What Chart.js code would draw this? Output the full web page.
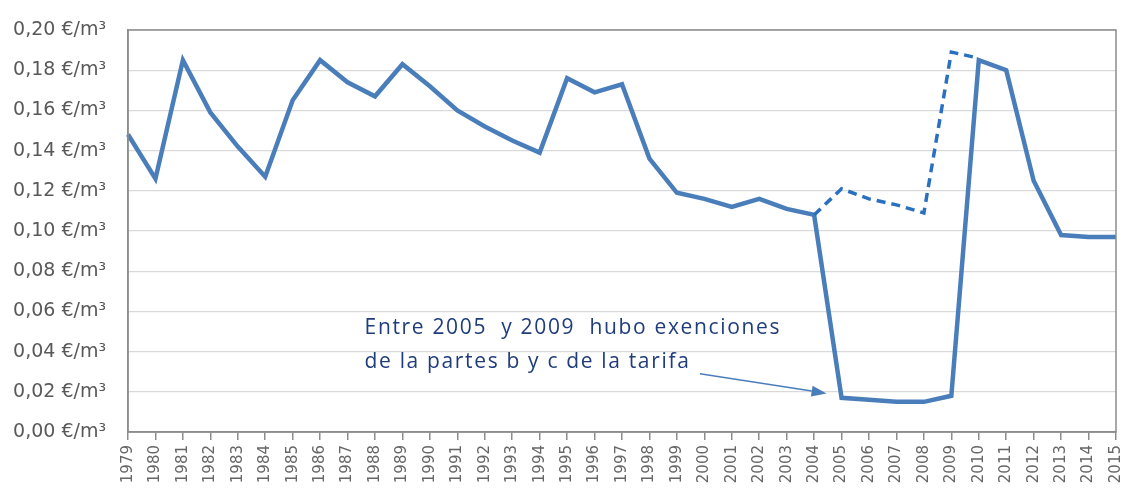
<!DOCTYPE html>
<html>
<head>
<meta charset="utf-8">
<script src="https://cdn.jsdelivr.net/npm/chart.js@4/dist/chart.umd.min.js"></script>
<style>
html,body{margin:0;padding:0;background:#fff;}
#wrap{width:1125px;height:489px;}
</style>
</head>
<body>
<div id="wrap"><canvas id="c" width="1125" height="489"></canvas></div>
<script>
const years = ["1979","1980","1981","1982","1983","1984","1985","1986","1987","1988","1989","1990","1991","1992","1993","1994","1995","1996","1997","1998","1999","2000","2001","2002","2003","2004","2005","2006","2007","2008","2009","2010","2011","2012","2013","2014","2015"];
const tarifaReal = [0.148,0.126,0.185,0.159,0.142,0.127,0.165,0.185,0.174,0.167,0.183,0.172,0.160,0.152,0.145,0.139,0.176,0.169,0.173,0.136,0.119,0.116,0.112,0.116,0.111,0.108,0.017,0.016,0.015,0.015,0.018,0.185,0.180,0.125,0.098,0.097,0.097];
const tarifaSinExencion = [null,null,null,null,null,null,null,null,null,null,null,null,null,null,null,null,null,null,null,null,null,null,null,null,null,0.108,0.121,0.116,0.113,0.109,0.189,0.186,null,null,null,null,null];
const yTicks = [0,0.02,0.04,0.06,0.08,0.10,0.12,0.14,0.16,0.18,0.20];
const noteLines = ["Entre 2005  y 2009  hubo exenciones","de la partes b y c de la tarifa"];

const frame = {
  id:'frame',
  afterDatasetsDraw(chart){
    const {ctx, chartArea:a, scales:{x,y}} = chart;
    ctx.save();
    ctx.strokeStyle = '#8c8c8c';
    ctx.lineWidth = 1.5;
    ctx.strokeRect(a.left, a.top, a.right-a.left, a.bottom-a.top);
    // annotation text
    ctx.fillStyle = '#1f3c7c';
    ctx.font = '21px "Open Sans"';
    const left = x.getPixelForValue(8) + 17;
    const target = 415;
    const m = ctx.measureText(noteLines[0]).width;
    const ls = (target - m) / (noteLines[0].length - 1);
    ctx.letterSpacing = ls.toFixed(2) + 'px';
    ctx.textBaseline = 'alphabetic';
    ctx.fillText(noteLines[0], left, y.getPixelForValue(0.049));
    ctx.fillText(noteLines[1], left, y.getPixelForValue(0.032));
    ctx.letterSpacing = '0px';
    // arrow
    const x0 = x.getPixelForValue(20) + 23, y0 = y.getPixelForValue(0.029);
    const x1 = x.getPixelForValue(26) - 15, y1 = y.getPixelForValue(0.0192);
    const ang = Math.atan2(y1-y0, x1-x0);
    ctx.strokeStyle = '#4a7ebb';
    ctx.fillStyle = '#4a7ebb';
    ctx.lineWidth = 1.5;
    const hl = 15, hw = 5.5;
    const bx = x1 - hl*Math.cos(ang), by = y1 - hl*Math.sin(ang);
    ctx.beginPath(); ctx.moveTo(x0,y0); ctx.lineTo(bx,by); ctx.stroke();
    ctx.beginPath();
    ctx.moveTo(x1,y1);
    ctx.lineTo(bx + hw*Math.sin(ang), by - hw*Math.cos(ang));
    ctx.lineTo(bx - hw*Math.sin(ang), by + hw*Math.cos(ang));
    ctx.closePath(); ctx.fill();
    ctx.restore();
  }
};

new Chart(document.getElementById('c'), {
  type:'line',
  data:{
    labels: years,
    datasets:[
      {data: tarifaReal, borderColor:'#4a7ebb', borderWidth:4.5, pointRadius:0, tension:0, fill:false, order:2},
      {data: tarifaSinExencion, borderColor:'#2a70c0', borderWidth:3.5, borderDash:[9,6], pointRadius:0, tension:0, fill:false, spanGaps:false, order:1}
    ]
  },
  options:{
    responsive:false,
    animation:false,
    events:[],
    layout:{padding:{top:30,right:9,left:0,bottom:0}},
    plugins:{legend:{display:false}, tooltip:{enabled:false}},
    scales:{
      x:{
        offset:false,
        grid:{drawOnChartArea:false, drawTicks:true, tickLength:8, color:'#8c8c8c', lineWidth:1.5},
        border:{color:'#8c8c8c', width:1.5},
        ticks:{autoSkip:false, maxRotation:90, minRotation:90, padding:5, color:'#666666', font:{family:'DejaVu Sans', size:15}},
        afterFit(s){ s.height = 57; s.paddingLeft = 0; s.paddingRight = 0; }
      },
      y:{
        min:0, max:0.2,
        afterBuildTicks(s){ s.ticks = yTicks.map(v=>({value:v})); },
        grid:{color:'#d9d9d9', lineWidth:1.2, drawTicks:false},
        border:{color:'#8c8c8c', width:1.5},
        ticks:{padding:22, color:'#595959', font:{family:'DejaVu Sans', size:19},
          callback:(v)=> Number(v).toFixed(2).replace('.',',') + ' €/m³'},
        afterFit(s){ s.width = 128; s.paddingTop = 0; s.paddingBottom = 0; }
      }
    }
  },
  plugins:[frame]
});
</script>
</body>
</html>
